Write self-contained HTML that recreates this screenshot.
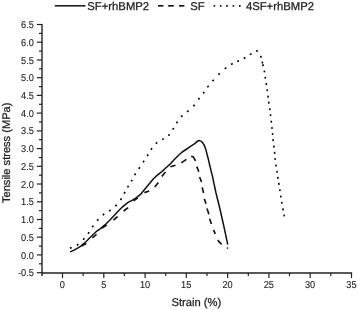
<!DOCTYPE html>
<html><head><meta charset="utf-8"><style>
html,body{margin:0;padding:0;background:#fff;}
svg{display:block;will-change:transform;}
text{font-family:"Liberation Sans",sans-serif;fill:#1a1a1a;stroke:#1a1a1a;stroke-width:0.25px;text-rendering:geometricPrecision;}
.tl{font-size:10.0px;stroke-width:0.1px;}
.tt{font-size:11px;}
.lg{font-size:11.3px;}
.ax{stroke:#222;stroke-width:1.4;}
.tk{stroke:#222;stroke-width:1.2;}
.c{fill:none;stroke:#111;stroke-linejoin:round;}
.s{stroke-width:1.5;}
.dd{stroke-width:1.65;}
.dot{fill:#111;}
.dt{stroke:#000;stroke-width:1.6;}
</style></head><body>
<svg width="358" height="310" viewBox="0 0 358 310">
<line x1="42.0" y1="23.9" x2="42.0" y2="275.9" class="ax"/>
<line x1="41.4" y1="273.05" x2="352.1" y2="273.05" class="ax"/>
<line x1="36.8" y1="272.7" x2="42.0" y2="272.7" class="tk"/>
<text transform="translate(33.9,276.00) scale(0.92,1)" text-anchor="end" class="tl">-0.5</text>
<line x1="39.0" y1="263.8" x2="42.0" y2="263.8" class="tk"/>
<line x1="36.8" y1="254.9" x2="42.0" y2="254.9" class="tk"/>
<text transform="translate(33.9,259.00) scale(0.92,1)" text-anchor="end" class="tl">0.0</text>
<line x1="39.0" y1="246.1" x2="42.0" y2="246.1" class="tk"/>
<line x1="36.8" y1="237.2" x2="42.0" y2="237.2" class="tk"/>
<text transform="translate(33.9,241.00) scale(0.92,1)" text-anchor="end" class="tl">0.5</text>
<line x1="39.0" y1="228.4" x2="42.0" y2="228.4" class="tk"/>
<line x1="36.8" y1="219.5" x2="42.0" y2="219.5" class="tk"/>
<text transform="translate(33.9,223.00) scale(0.92,1)" text-anchor="end" class="tl">1.0</text>
<line x1="39.0" y1="210.6" x2="42.0" y2="210.6" class="tk"/>
<line x1="36.8" y1="201.8" x2="42.0" y2="201.8" class="tk"/>
<text transform="translate(33.9,205.00) scale(0.92,1)" text-anchor="end" class="tl">1.5</text>
<line x1="39.0" y1="192.9" x2="42.0" y2="192.9" class="tk"/>
<line x1="36.8" y1="184.0" x2="42.0" y2="184.0" class="tk"/>
<text transform="translate(33.9,188.00) scale(0.92,1)" text-anchor="end" class="tl">2.0</text>
<line x1="39.0" y1="175.2" x2="42.0" y2="175.2" class="tk"/>
<line x1="36.8" y1="166.3" x2="42.0" y2="166.3" class="tk"/>
<text transform="translate(33.9,170.00) scale(0.92,1)" text-anchor="end" class="tl">2.5</text>
<line x1="39.0" y1="157.5" x2="42.0" y2="157.5" class="tk"/>
<line x1="36.8" y1="148.6" x2="42.0" y2="148.6" class="tk"/>
<text transform="translate(33.9,152.00) scale(0.92,1)" text-anchor="end" class="tl">3.0</text>
<line x1="39.0" y1="139.7" x2="42.0" y2="139.7" class="tk"/>
<line x1="36.8" y1="130.9" x2="42.0" y2="130.9" class="tk"/>
<text transform="translate(33.9,134.00) scale(0.92,1)" text-anchor="end" class="tl">3.5</text>
<line x1="39.0" y1="122.0" x2="42.0" y2="122.0" class="tk"/>
<line x1="36.8" y1="113.1" x2="42.0" y2="113.1" class="tk"/>
<text transform="translate(33.9,117.00) scale(0.92,1)" text-anchor="end" class="tl">4.0</text>
<line x1="39.0" y1="104.3" x2="42.0" y2="104.3" class="tk"/>
<line x1="36.8" y1="95.4" x2="42.0" y2="95.4" class="tk"/>
<text transform="translate(33.9,99.00) scale(0.92,1)" text-anchor="end" class="tl">4.5</text>
<line x1="39.0" y1="86.6" x2="42.0" y2="86.6" class="tk"/>
<line x1="36.8" y1="77.7" x2="42.0" y2="77.7" class="tk"/>
<text transform="translate(33.9,81.00) scale(0.92,1)" text-anchor="end" class="tl">5.0</text>
<line x1="39.0" y1="68.8" x2="42.0" y2="68.8" class="tk"/>
<line x1="36.8" y1="60.0" x2="42.0" y2="60.0" class="tk"/>
<text transform="translate(33.9,64.00) scale(0.92,1)" text-anchor="end" class="tl">5.5</text>
<line x1="39.0" y1="51.1" x2="42.0" y2="51.1" class="tk"/>
<line x1="36.8" y1="42.2" x2="42.0" y2="42.2" class="tk"/>
<text transform="translate(33.9,46.00) scale(0.92,1)" text-anchor="end" class="tl">6.0</text>
<line x1="39.0" y1="33.4" x2="42.0" y2="33.4" class="tk"/>
<line x1="36.8" y1="24.5" x2="42.0" y2="24.5" class="tk"/>
<text transform="translate(33.9,28.00) scale(0.92,1)" text-anchor="end" class="tl">6.5</text>
<line x1="62.5" y1="273.05" x2="62.5" y2="278.1" class="tk"/>
<text transform="translate(62.4,288) scale(0.92,1)" text-anchor="middle" class="tl">0</text>
<line x1="83.1" y1="273.05" x2="83.1" y2="276.1" class="tk"/>
<line x1="103.8" y1="273.05" x2="103.8" y2="278.1" class="tk"/>
<text transform="translate(103.7,288) scale(0.92,1)" text-anchor="middle" class="tl">5</text>
<line x1="124.4" y1="273.05" x2="124.4" y2="276.1" class="tk"/>
<line x1="145.1" y1="273.05" x2="145.1" y2="278.1" class="tk"/>
<text transform="translate(145.0,288) scale(0.92,1)" text-anchor="middle" class="tl">10</text>
<line x1="165.7" y1="273.05" x2="165.7" y2="276.1" class="tk"/>
<line x1="186.3" y1="273.05" x2="186.3" y2="278.1" class="tk"/>
<text transform="translate(186.2,288) scale(0.92,1)" text-anchor="middle" class="tl">15</text>
<line x1="207.0" y1="273.05" x2="207.0" y2="276.1" class="tk"/>
<line x1="227.6" y1="273.05" x2="227.6" y2="278.1" class="tk"/>
<text transform="translate(227.5,288) scale(0.92,1)" text-anchor="middle" class="tl">20</text>
<line x1="248.3" y1="273.05" x2="248.3" y2="276.1" class="tk"/>
<line x1="268.9" y1="273.05" x2="268.9" y2="278.1" class="tk"/>
<text transform="translate(268.8,288) scale(0.92,1)" text-anchor="middle" class="tl">25</text>
<line x1="289.5" y1="273.05" x2="289.5" y2="276.1" class="tk"/>
<line x1="310.2" y1="273.05" x2="310.2" y2="278.1" class="tk"/>
<text transform="translate(310.1,288) scale(0.92,1)" text-anchor="middle" class="tl">30</text>
<line x1="330.8" y1="273.05" x2="330.8" y2="276.1" class="tk"/>
<line x1="351.5" y1="273.05" x2="351.5" y2="278.1" class="tk"/>
<text transform="translate(351.4,288) scale(0.92,1)" text-anchor="middle" class="tl">35</text>
<text x="196.4" y="306" text-anchor="middle" class="tt" style="font-size:11.2px">Strain (%)</text>
<text transform="translate(10,152.8) rotate(-90)" x="0" y="0" text-anchor="middle" class="tt" style="font-size:11.1px">Tensile stress (MPa)</text>
<line x1="54.8" y1="5.8" x2="85.5" y2="5.8" class="c s"/>
<text x="87.3" y="9.5" class="lg">SF+rhBMP2</text>
<line x1="158.0" y1="5.8" x2="163.4" y2="5.8" class="c dd"/>
<line x1="168.1" y1="5.8" x2="173.8" y2="5.8" class="c dd"/>
<line x1="179.0" y1="5.8" x2="184.4" y2="5.8" class="c dd"/>
<text x="190.3" y="9.5" class="lg">SF</text>
<line x1="213.6" y1="5.9" x2="215.2" y2="5.9" class="dt"/>
<line x1="219.9" y1="5.9" x2="221.5" y2="5.9" class="dt"/>
<line x1="226.2" y1="5.9" x2="227.8" y2="5.9" class="dt"/>
<line x1="232.6" y1="5.9" x2="234.2" y2="5.9" class="dt"/>
<line x1="239.0" y1="5.9" x2="240.6" y2="5.9" class="dt"/>
<text x="245.9" y="9.5" class="lg">4SF+rhBMP2</text>
<polyline points="70.2,251.9 74.0,250.1 77.2,248.4 80.5,246.3 83.7,243.7 86.9,240.8 90.1,237.5 93.2,234.5 96.1,231.7 100.2,228.9 103.4,226.1 105.6,224.2 109.7,220.2 113.7,216.1 117.7,211.7 120.5,208.8 124.0,205.6 128.1,202.3 132.1,200.3 136.1,197.9 140.2,194.7 142.5,192.0 145.6,188.2 149.7,183.3 153.7,178.5 157.7,174.9 161.8,171.6 166.0,167.8 170.1,164.1 174.1,159.7 178.1,155.7 182.2,152.0 186.0,149.5 189.8,146.9 194.7,143.6 197.6,141.1 199.5,140.6 201.5,141.4 202.9,143.1 204.4,145.5 205.8,149.4 207.1,154.5 208.5,159.8 209.7,165.3 212.3,175.6 214.5,186.0 216.0,193.0 219.6,207.5 223.0,222.5 224.6,229.7 226.0,236.5 227.3,242.3 227.7,244.7" class="c s"/>
<circle cx="227.5" cy="248.1" r="0.8" class="dot"/>
<polyline points="81.5,245.9 86.3,243.5" class="c dd"/>
<polyline points="92.3,237.9 96.6,234.3" class="c dd"/>
<polyline points="102.2,228.2 106.8,224.8" class="c dd"/>
<polyline points="113.5,220.0 117.6,216.6" class="c dd"/>
<polyline points="123.6,211.0 128.2,207.6" class="c dd"/>
<polyline points="133.6,200.8 137.8,197.8" class="c dd"/>
<polyline points="144.4,192.6 149.2,191.0" class="c dd"/>
<polyline points="154.8,186.9 158.3,182.6" class="c dd"/>
<polyline points="161.8,176.4 165.4,172.0" class="c dd"/>
<polyline points="170.4,166.8 175.5,165.3" class="c dd"/>
<polyline points="181.3,162.9 186.4,159.3" class="c dd"/>
<polyline points="191.2,156.4 193.3,156.8 195.5,160.8" class="c dd"/>
<polyline points="196.8,166.6 198.8,171.8" class="c dd"/>
<polyline points="199.6,177.0 201.5,182.0" class="c dd"/>
<polyline points="202.2,187.4 203.6,193.0" class="c dd"/>
<polyline points="204.3,198.7 206.0,203.7" class="c dd"/>
<polyline points="207.0,208.4 208.9,214.2" class="c dd"/>
<polyline points="209.6,218.8 211.4,223.9" class="c dd"/>
<polyline points="213.5,229.8 215.3,233.9" class="c dd"/>
<polyline points="217.8,240.0 219.6,242.4 221.6,244.3" class="c dd"/>
<line x1="69.93" y1="248.18" x2="71.67" y2="247.42" class="dt"/>
<line x1="76.81" y1="245.33" x2="78.39" y2="244.27" class="dt"/>
<line x1="83.16" y1="239.70" x2="84.44" y2="238.30" class="dt"/>
<line x1="88.05" y1="233.67" x2="89.15" y2="232.13" class="dt"/>
<line x1="92.26" y1="227.18" x2="93.34" y2="225.62" class="dt"/>
<line x1="97.06" y1="220.61" x2="98.34" y2="219.19" class="dt"/>
<line x1="102.75" y1="215.08" x2="104.25" y2="213.92" class="dt"/>
<line x1="109.03" y1="211.05" x2="110.57" y2="209.95" class="dt"/>
<line x1="115.43" y1="206.17" x2="116.77" y2="204.83" class="dt"/>
<line x1="120.47" y1="199.99" x2="121.53" y2="198.41" class="dt"/>
<line x1="124.14" y1="193.63" x2="125.06" y2="191.97" class="dt"/>
<line x1="127.52" y1="187.42" x2="128.48" y2="185.78" class="dt"/>
<line x1="131.23" y1="181.42" x2="132.17" y2="179.78" class="dt"/>
<line x1="134.61" y1="175.11" x2="135.59" y2="173.49" class="dt"/>
<line x1="138.77" y1="168.89" x2="139.83" y2="167.31" class="dt"/>
<line x1="143.08" y1="162.39" x2="144.12" y2="160.81" class="dt"/>
<line x1="147.20" y1="156.10" x2="148.20" y2="154.50" class="dt"/>
<line x1="150.95" y1="149.77" x2="152.05" y2="148.23" class="dt"/>
<line x1="155.78" y1="143.62" x2="157.22" y2="142.38" class="dt"/>
<line x1="162.20" y1="139.61" x2="163.80" y2="138.59" class="dt"/>
<line x1="168.33" y1="135.68" x2="169.67" y2="134.32" class="dt"/>
<line x1="172.69" y1="129.60" x2="173.71" y2="128.00" class="dt"/>
<line x1="176.46" y1="123.18" x2="177.54" y2="121.62" class="dt"/>
<line x1="181.14" y1="116.88" x2="182.46" y2="115.52" class="dt"/>
<line x1="187.09" y1="111.83" x2="188.51" y2="110.57" class="dt"/>
<line x1="193.37" y1="106.11" x2="194.63" y2="104.69" class="dt"/>
<line x1="198.32" y1="99.55" x2="199.48" y2="98.05" class="dt"/>
<line x1="203.13" y1="93.56" x2="204.27" y2="92.04" class="dt"/>
<line x1="207.43" y1="87.36" x2="208.57" y2="85.84" class="dt"/>
<line x1="212.47" y1="81.11" x2="213.73" y2="79.69" class="dt"/>
<line x1="218.42" y1="74.76" x2="219.78" y2="73.44" class="dt"/>
<line x1="224.75" y1="68.89" x2="226.25" y2="67.71" class="dt"/>
<line x1="231.08" y1="64.47" x2="232.72" y2="63.53" class="dt"/>
<line x1="237.24" y1="61.51" x2="238.96" y2="60.69" class="dt"/>
<line x1="243.77" y1="58.46" x2="245.43" y2="57.54" class="dt"/>
<line x1="249.87" y1="54.67" x2="251.53" y2="53.73" class="dt"/>
<line x1="255.98" y1="50.77" x2="257.82" y2="51.23" class="dt"/>
<line x1="260.49" y1="55.94" x2="261.31" y2="57.66" class="dt"/>
<line x1="262.17" y1="61.68" x2="262.63" y2="63.52" class="dt"/>
<line x1="262.79" y1="64.27" x2="263.21" y2="66.13" class="dt"/>
<line x1="264.23" y1="70.57" x2="264.57" y2="72.43" class="dt"/>
<line x1="265.16" y1="76.76" x2="265.44" y2="78.64" class="dt"/>
<line x1="266.16" y1="83.16" x2="266.44" y2="85.04" class="dt"/>
<line x1="267.06" y1="89.26" x2="267.34" y2="91.14" class="dt"/>
<line x1="267.98" y1="95.66" x2="268.22" y2="97.54" class="dt"/>
<line x1="268.67" y1="101.66" x2="268.93" y2="103.54" class="dt"/>
<line x1="269.67" y1="108.26" x2="269.93" y2="110.14" class="dt"/>
<line x1="270.39" y1="114.26" x2="270.61" y2="116.14" class="dt"/>
<line x1="271.19" y1="120.76" x2="271.41" y2="122.64" class="dt"/>
<line x1="271.90" y1="127.06" x2="272.10" y2="128.94" class="dt"/>
<line x1="272.51" y1="133.05" x2="272.69" y2="134.95" class="dt"/>
<line x1="273.00" y1="139.26" x2="273.20" y2="141.14" class="dt"/>
<line x1="273.79" y1="145.66" x2="274.01" y2="147.54" class="dt"/>
<line x1="274.51" y1="151.85" x2="274.69" y2="153.75" class="dt"/>
<line x1="275.00" y1="158.06" x2="275.20" y2="159.94" class="dt"/>
<line x1="275.86" y1="164.56" x2="276.14" y2="166.44" class="dt"/>
<line x1="276.86" y1="170.86" x2="277.14" y2="172.74" class="dt"/>
<line x1="277.75" y1="176.96" x2="278.05" y2="178.84" class="dt"/>
<line x1="278.75" y1="182.96" x2="279.05" y2="184.84" class="dt"/>
<line x1="279.76" y1="189.26" x2="280.04" y2="191.14" class="dt"/>
<line x1="280.66" y1="195.56" x2="280.94" y2="197.44" class="dt"/>
<line x1="281.64" y1="201.86" x2="281.96" y2="203.74" class="dt"/>
<line x1="282.82" y1="208.47" x2="283.18" y2="210.33" class="dt"/>
<line x1="284.02" y1="214.57" x2="284.38" y2="216.43" class="dt"/>
</svg>
</body></html>
